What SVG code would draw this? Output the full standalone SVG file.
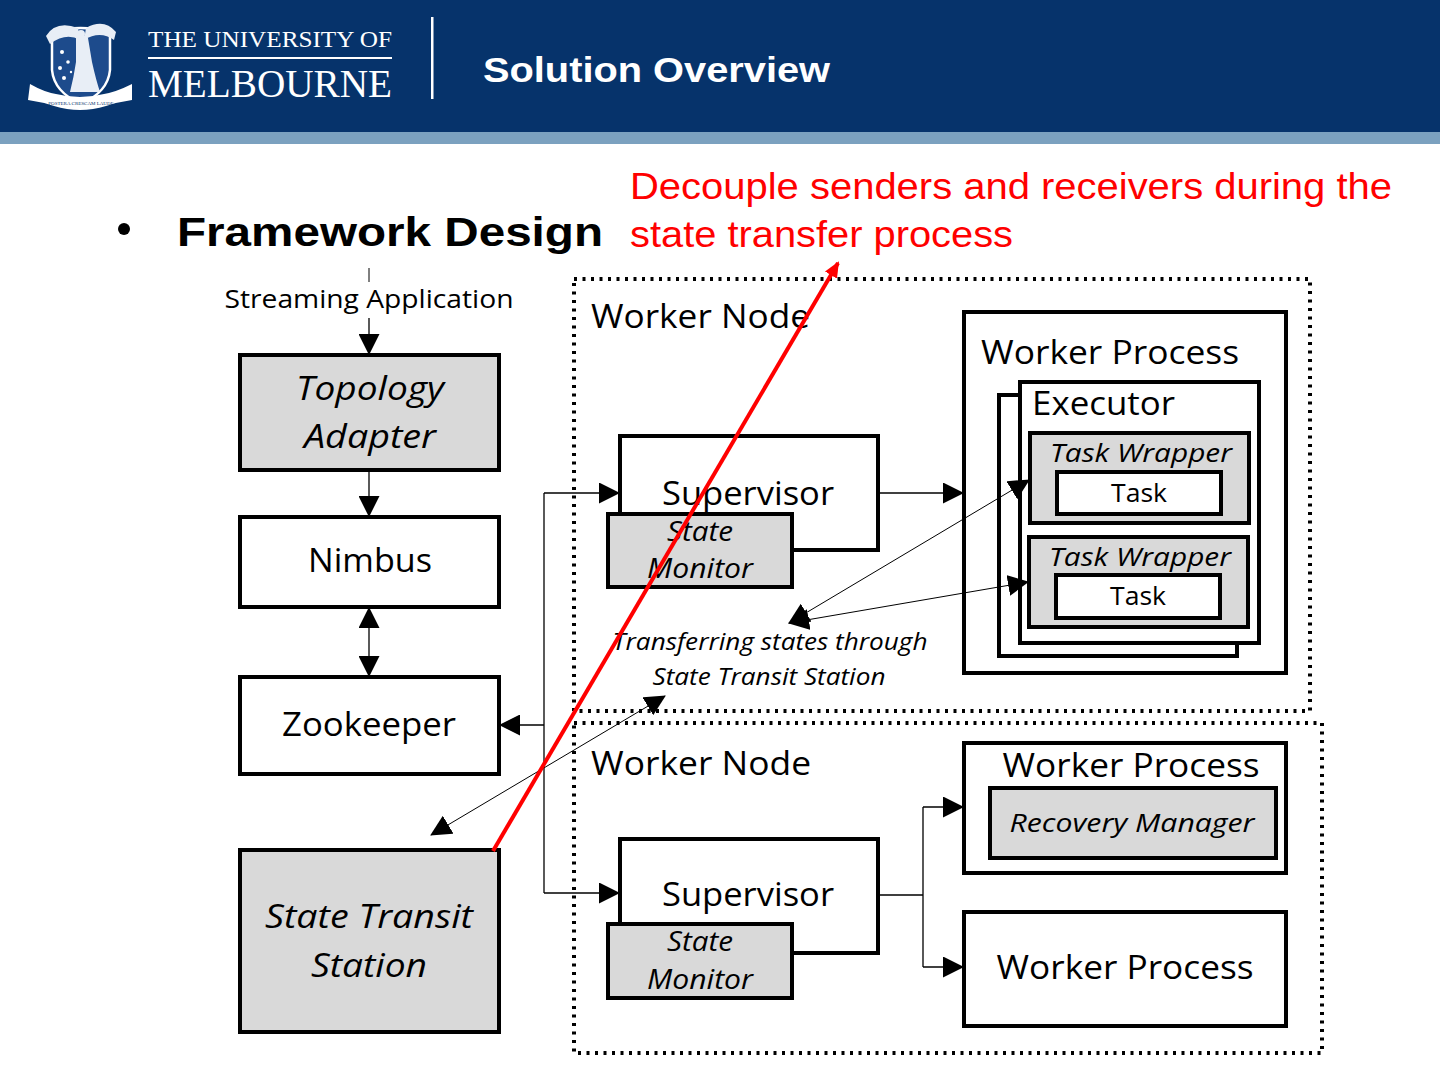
<svg xmlns="http://www.w3.org/2000/svg" width="1440" height="1080" viewBox="0 0 1440 1080">
<style>
.box{stroke:#000;stroke-width:4;fill:#fff}
.gray{fill:#d9d9d9}
.dot{fill:none;stroke:#000;stroke-width:4;stroke-dasharray:3 5.5}
.t{font-family:"Open Sans","Noto Sans","Liberation Sans",sans-serif;fill:#000}
.i{font-style:italic}
.c{text-anchor:middle}
.ln{fill:none;stroke:#000;stroke-width:1.3}
.thin{fill:none;stroke:#000;stroke-width:1}
.hdr{font-family:"Liberation Serif","DejaVu Serif",serif;fill:#fff}
</style>
<defs>
<marker id="ah" markerUnits="userSpaceOnUse" markerWidth="21" markerHeight="21" refX="20" refY="10.5" orient="auto-start-reverse">
<path d="M0,0 L21,10.5 L0,21 z" fill="#000"/>
</marker>
<marker id="rh" markerUnits="userSpaceOnUse" markerWidth="16" markerHeight="14" refX="14" refY="7" orient="auto">
<path d="M0,0 L16,7 L0,14 z" fill="#f00"/>
</marker>
</defs>

<!-- header -->
<g id="header">
<rect x="0" y="0" width="1440" height="132" fill="#06336b"/>
<rect x="0" y="132" width="1440" height="12" fill="#7ba1bf"/>
<g id="crest">
<path d="M52,32 Q80,24 110,32 L110,70 Q108,92 81,104 Q54,92 52,70 Z" fill="#1d4b8c" stroke="#fff" stroke-width="2.5"/>
<path d="M46,36 Q56,20 78,28 L80,40 Q66,32 50,44 Z" fill="#e8eef6"/>
<path d="M116,32 Q104,18 86,28 L84,40 Q100,30 114,40 Z" fill="#e8eef6"/>
<path d="M76,38 Q82,32 88,38 L92,62 Q96,80 100,92 L70,92 Q74,76 76,62 Z" fill="#e8eef6"/>
<circle cx="81" cy="34" r="4" fill="#e8eef6"/>
<g fill="#fff">
<circle cx="62" cy="52" r="2"/><circle cx="68" cy="62" r="1.8"/><circle cx="60" cy="68" r="2"/><circle cx="64" cy="78" r="2"/><circle cx="71" cy="72" r="1.2"/>
</g>
<path d="M30,84 Q44,92 56,94 Q80,100 104,94 Q116,92 132,84 L132,100 Q118,102 106,106 Q80,114 54,106 Q42,102 28,100 Z" fill="#fff"/>
<text x="81" y="105" font-family="Liberation Serif,serif" font-size="5" fill="#06336b" text-anchor="middle">POSTERA CRESCAM LAUDE</text>
</g>
<text class="hdr" x="148" y="47" font-size="24" textLength="244" lengthAdjust="spacingAndGlyphs">THE UNIVERSITY OF</text>
<rect x="148" y="57" width="244" height="2" fill="#fff"/>
<text class="hdr" x="148" y="97" font-size="40" textLength="244" lengthAdjust="spacingAndGlyphs">MELBOURNE</text>
<rect x="431" y="17" width="2.5" height="82" fill="#fff"/>
<text x="483" y="82" font-family="Liberation Sans,Arial,sans-serif" font-weight="bold" font-size="35" fill="#fff" textLength="347" lengthAdjust="spacingAndGlyphs">Solution Overview</text>
</g>

<g id="title">
<circle cx="124" cy="229" r="6" fill="#000"/>
<text x="177" y="246" font-family="Liberation Sans,Arial,sans-serif" font-weight="bold" font-size="40" textLength="426" lengthAdjust="spacingAndGlyphs">Framework Design</text>
</g>

<g id="note">
<text x="630" y="199" font-family="Liberation Sans,Arial,sans-serif" font-size="36" fill="#f00" textLength="762" lengthAdjust="spacingAndGlyphs">Decouple senders and receivers during the</text>
<text x="630" y="247" font-family="Liberation Sans,Arial,sans-serif" font-size="36" fill="#f00" textLength="383" lengthAdjust="spacingAndGlyphs">state transfer process</text>
</g>

<!-- containers -->
<g id="worker-node-1">
<rect class="dot" x="574" y="279" width="736" height="432"/>
<text class="t" x="591" y="328" font-size="32" textLength="219" lengthAdjust="spacingAndGlyphs">Worker Node</text>
</g>
<g id="worker-node-2">
<rect class="dot" x="574" y="723" width="748" height="330"/>
<text class="t" x="591" y="775" font-size="32" textLength="220" lengthAdjust="spacingAndGlyphs">Worker Node</text>
</g>

<!-- left column -->
<g id="streaming-app">
<text class="t c" x="369" y="308" font-size="25" textLength="289" lengthAdjust="spacingAndGlyphs">Streaming Application</text>
</g>
<g id="topology-adapter">
<rect class="box gray" x="240" y="355" width="259" height="115"/>
<text class="t i c" x="370" y="400" font-size="32" textLength="148" lengthAdjust="spacingAndGlyphs">Topology</text>
<text class="t i c" x="370" y="448" font-size="32" textLength="132" lengthAdjust="spacingAndGlyphs">Adapter</text>
</g>
<g id="nimbus">
<rect class="box" x="240" y="517" width="259" height="90"/>
<text class="t c" x="370" y="572" font-size="32" textLength="124" lengthAdjust="spacingAndGlyphs">Nimbus</text>
</g>
<g id="zookeeper">
<rect class="box" x="240" y="677" width="259" height="97"/>
<text class="t c" x="369" y="736" font-size="32" textLength="174" lengthAdjust="spacingAndGlyphs">Zookeeper</text>
</g>
<g id="state-transit-station">
<rect class="box gray" x="240" y="850" width="259" height="182"/>
<text class="t i c" x="369" y="928" font-size="32" textLength="208" lengthAdjust="spacingAndGlyphs">State Transit</text>
<text class="t i c" x="369" y="977" font-size="32" textLength="116" lengthAdjust="spacingAndGlyphs">Station</text>
</g>

<!-- worker node 1 contents -->
<g id="supervisor-1">
<rect class="box" x="620" y="436" width="258" height="114"/>
<text class="t c" x="748" y="505" font-size="32" textLength="172" lengthAdjust="spacingAndGlyphs">Supervisor</text>
</g>
<g id="state-monitor-1">
<rect class="box gray" x="608" y="514" width="184" height="73"/>
<text class="t i c" x="700" y="541" font-size="27" textLength="66" lengthAdjust="spacingAndGlyphs">State</text>
<text class="t i c" x="700" y="578" font-size="27" textLength="106" lengthAdjust="spacingAndGlyphs">Monitor</text>
</g>
<g id="worker-process-1">
<rect class="box" x="964" y="312" width="322" height="361"/>
<text class="t" x="981" y="364" font-size="32" textLength="258" lengthAdjust="spacingAndGlyphs">Worker Process</text>
</g>
<g id="executor">
<rect class="box" x="999" y="395" width="238" height="261"/>
<rect class="box" x="1020" y="382" width="239" height="261"/>
<text class="t" x="1032" y="415" font-size="32" textLength="143" lengthAdjust="spacingAndGlyphs">Executor</text>
</g>
<g id="task-wrapper-1">
<rect class="box gray" x="1030" y="433" width="219" height="90"/>
<text class="t i c" x="1141" y="462" font-size="26" textLength="182" lengthAdjust="spacingAndGlyphs">Task Wrapper</text>
<rect class="box" x="1057" y="472" width="164" height="42"/>
<text class="t c" x="1139" y="502" font-size="26" textLength="56" lengthAdjust="spacingAndGlyphs">Task</text>
</g>
<g id="task-wrapper-2">
<rect class="box gray" x="1029" y="537" width="219" height="90"/>
<text class="t i c" x="1140" y="566" font-size="26" textLength="182" lengthAdjust="spacingAndGlyphs">Task Wrapper</text>
<rect class="box" x="1056" y="575" width="164" height="43"/>
<text class="t c" x="1138" y="605" font-size="26" textLength="56" lengthAdjust="spacingAndGlyphs">Task</text>
</g>
<g id="transfer-label">
<text class="t i c" x="770" y="650" font-size="24" textLength="315" lengthAdjust="spacingAndGlyphs">Transferring states through</text>
<text class="t i c" x="769" y="685" font-size="24" textLength="233" lengthAdjust="spacingAndGlyphs">State Transit Station</text>
</g>

<!-- worker node 2 contents -->
<g id="supervisor-2">
<rect class="box" x="620" y="839" width="258" height="114"/>
<text class="t c" x="748" y="906" font-size="32" textLength="172" lengthAdjust="spacingAndGlyphs">Supervisor</text>
</g>
<g id="state-monitor-2">
<rect class="box gray" x="608" y="924" width="184" height="74"/>
<text class="t i c" x="700" y="951" font-size="27" textLength="66" lengthAdjust="spacingAndGlyphs">State</text>
<text class="t i c" x="700" y="989" font-size="27" textLength="106" lengthAdjust="spacingAndGlyphs">Monitor</text>
</g>
<g id="worker-process-2">
<rect class="box" x="964" y="743" width="322" height="130"/>
<text class="t c" x="1131" y="777" font-size="32" textLength="257" lengthAdjust="spacingAndGlyphs">Worker Process</text>
</g>
<g id="recovery-manager">
<rect class="box gray" x="990" y="788" width="286" height="70"/>
<text class="t i c" x="1132" y="832" font-size="26" textLength="245" lengthAdjust="spacingAndGlyphs">Recovery Manager</text>
</g>
<g id="worker-process-3">
<rect class="box" x="964" y="912" width="322" height="114"/>
<text class="t c" x="1125" y="979" font-size="32" textLength="257" lengthAdjust="spacingAndGlyphs">Worker Process</text>
</g>

<!-- connectors -->
<g id="connectors">
<path class="thin" d="M369,268 V282" stroke="#888"/>
<path class="ln" d="M369,318 V354" marker-end="url(#ah)"/>
<path class="ln" d="M369,470 V516" marker-end="url(#ah)"/>
<path class="ln" d="M369,608 V676" marker-start="url(#ah)" marker-end="url(#ah)"/>
<path class="ln" d="M544,493 V893"/>
<path class="ln" d="M544,725 H500" marker-end="url(#ah)"/>
<path class="ln" d="M544,493 H619" marker-end="url(#ah)"/>
<path class="ln" d="M544,893 H619" marker-end="url(#ah)"/>
<path class="ln" d="M879,493 H963" marker-end="url(#ah)"/>
<path class="ln" d="M879,895 H923 M923,807 V967"/>
<path class="ln" d="M923,807 H963" marker-end="url(#ah)"/>
<path class="ln" d="M923,967 H963" marker-end="url(#ah)"/>
<path class="thin" d="M789,623 L1029,480" marker-start="url(#ah)" marker-end="url(#ah)"/>
<path class="thin" d="M789,623 L1028,582" marker-start="url(#ah)" marker-end="url(#ah)"/>
<path class="thin" d="M431,835 L665,696" marker-start="url(#ah)" marker-end="url(#ah)"/>
<path d="M493,851 L838,263" fill="none" stroke="#f00" stroke-width="4" marker-end="url(#rh)"/>
</g>
</svg>
